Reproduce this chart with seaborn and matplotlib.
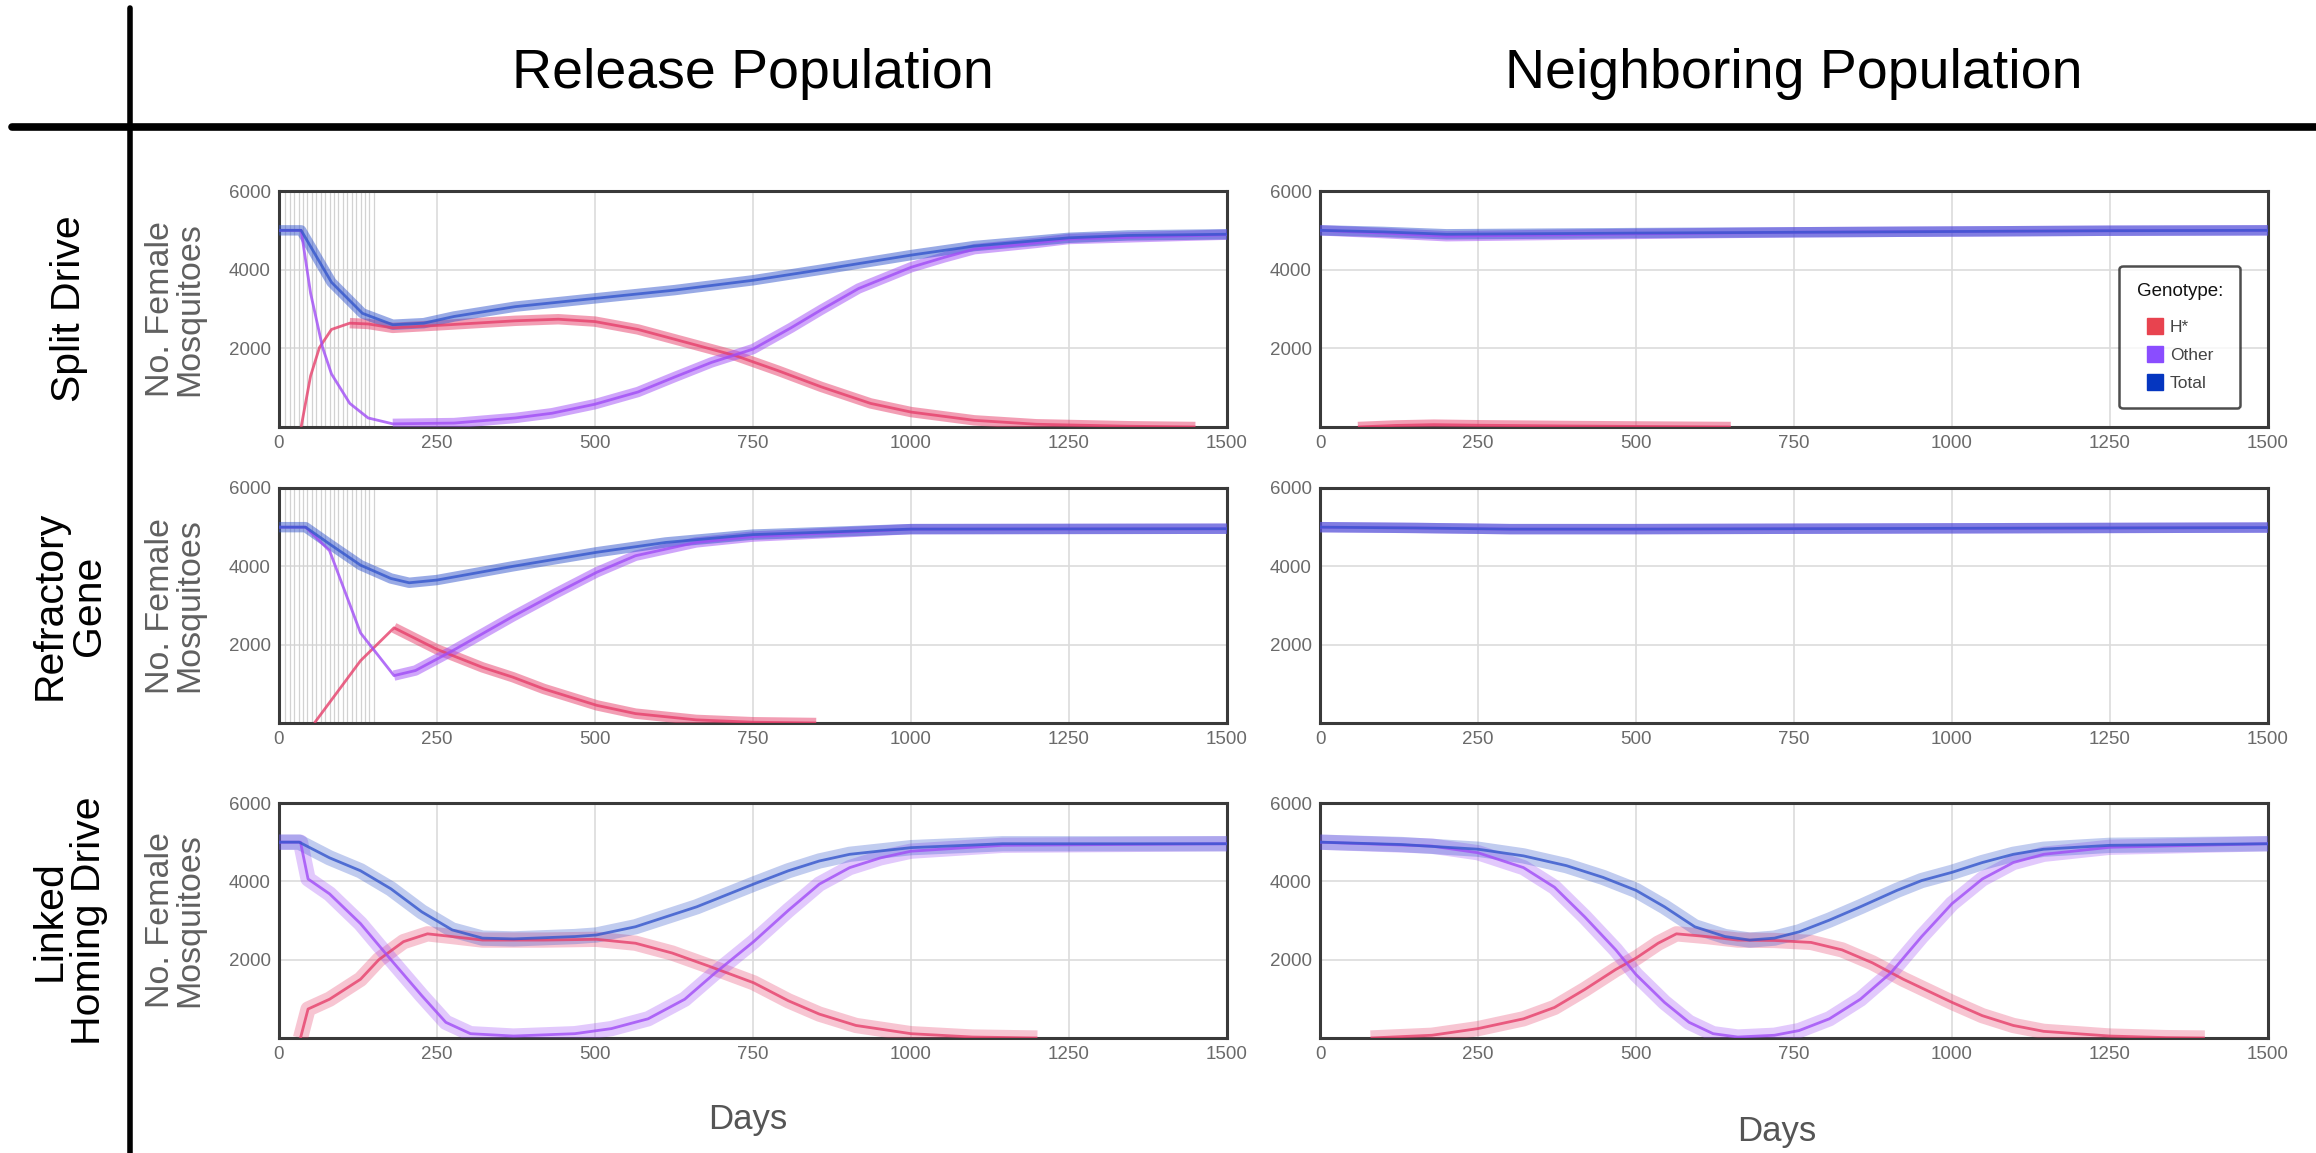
import numpy as np
import pandas as pd
import matplotlib
matplotlib.use("Agg")
import matplotlib.pyplot as plt
import seaborn as sns
from matplotlib.lines import Line2D

sns.set_theme(style="white")
plt.rcParams['font.family'] = ['Liberation Sans', 'DejaVu Sans']

# ---------------------------------------------------------------- data
GENOTYPES = ["H*", "Other", "Total"]
COLUMN_TITLES = ["Release Population", "Neighboring Population"]
ROW_TITLES = ["Split Drive", "Refractory\nGene", "Linked\nHoming Drive"]
X_TICKS = [0, 250, 500, 750, 1000, 1250, 1500]
Y_TICKS = [2000, 4000, 6000]
RELEASE_DAYS = [10, 17, 24, 31, 38, 45, 52, 59, 66, 73, 80, 87, 94, 101,
                108, 115, 122, 129, 136, 143, 150]

# Split drive, release population
SPLIT_REL_TOTAL_DAYS = [0, 35, 83, 132, 180, 229, 277, 374, 500, 626, 750, 858, 1000, 1100, 1250, 1343, 1500]
SPLIT_REL_TOTAL = [5000, 5000, 3680, 2890, 2600, 2640, 2810, 3060, 3270, 3480, 3730, 4000, 4370, 4600, 4810, 4870, 4900]
SPLIT_REL_HSTAR_DAYS = [35, 50, 64, 83, 112, 141, 180, 248, 374, 442, 500, 568, 626, 723, 790, 858, 936, 1000, 1100, 1198, 1343, 1450]
SPLIT_REL_HSTAR = [0, 1300, 2020, 2480, 2640, 2620, 2520, 2580, 2700, 2740, 2680, 2480, 2230, 1810, 1430, 1020, 600, 380, 170, 70, 20, 0]
SPLIT_REL_OTHER_DAYS = [0, 35, 50, 69, 83, 112, 141, 180, 277, 374, 432, 500, 568, 626, 684, 750, 810, 858, 917, 1000, 1052, 1100, 1198, 1250, 1500]
SPLIT_REL_OTHER = [5000, 5000, 3400, 2020, 1350, 600, 230, 80, 100, 230, 350, 580, 890, 1270, 1640, 1980, 2520, 2980, 3520, 4060, 4310, 4520, 4680, 4780, 4890]

# Split drive, neighbouring population
SPLIT_NB_TOTAL_DAYS = [0, 100, 200, 300, 500, 750, 1000, 1250, 1500]
SPLIT_NB_TOTAL = [5000, 4960, 4900, 4910, 4930, 4950, 4970, 4990, 5000]
SPLIT_NB_HSTAR_DAYS = [60, 120, 180, 250, 400, 550, 650]
SPLIT_NB_HSTAR = [0, 40, 60, 45, 25, 10, 0]
SPLIT_NB_OTHER_DAYS = [0, 100, 200, 300, 500, 750, 1000, 1250, 1500]
SPLIT_NB_OTHER = [5000, 4930, 4850, 4870, 4910, 4950, 4970, 4990, 5000]

# Refractory gene, release population
REFR_REL_TOTAL_DAYS = [0, 42, 80, 129, 177, 206, 250, 370, 503, 612, 750, 1000, 1500]
REFR_REL_TOTAL = [5000, 5000, 4570, 4030, 3690, 3580, 3650, 4000, 4360, 4610, 4810, 4950, 4960]
REFR_REL_HSTAR_DAYS = [56, 129, 182, 250, 322, 370, 419, 503, 564, 660, 750, 850]
REFR_REL_HSTAR = [0, 1590, 2430, 1880, 1420, 1170, 870, 450, 240, 80, 20, 0]
REFR_REL_OTHER_DAYS = [0, 42, 80, 129, 182, 216, 274, 370, 438, 503, 564, 660, 750, 1000, 1500]
REFR_REL_OTHER = [5000, 5000, 4400, 2300, 1210, 1340, 1840, 2720, 3310, 3850, 4270, 4610, 4760, 4950, 4960]

# Refractory gene, neighbouring population
REFR_NB_TOTAL_DAYS = [0, 150, 300, 500, 750, 1000, 1250, 1500]
REFR_NB_TOTAL = [5000, 4980, 4950, 4950, 4960, 4970, 4980, 4990]
REFR_NB_OTHER_DAYS = [0, 150, 300, 500, 750, 1000, 1250, 1500]
REFR_NB_OTHER = [5000, 4980, 4950, 4950, 4960, 4970, 4980, 4990]

# Linked homing drive, release population
LINK_REL_TOTAL_DAYS = [0, 32, 80, 129, 177, 226, 274, 322, 371, 468, 502, 564, 661, 751, 806, 855, 903, 1000, 1145, 1500]
LINK_REL_TOTAL = [5000, 5000, 4600, 4270, 3810, 3220, 2760, 2550, 2530, 2590, 2630, 2840, 3350, 3930, 4270, 4520, 4690, 4860, 4960, 4960]
LINK_REL_HSTAR_DAYS = [34, 46, 80, 129, 158, 197, 235, 274, 322, 419, 502, 564, 622, 681, 751, 806, 855, 913, 1000, 1097, 1200]
LINK_REL_HSTAR = [0, 740, 990, 1500, 2000, 2460, 2660, 2590, 2500, 2500, 2520, 2420, 2170, 1830, 1410, 950, 610, 320, 110, 25, 0]
LINK_REL_OTHER_DAYS = [0, 34, 46, 80, 129, 177, 226, 264, 303, 371, 468, 526, 584, 642, 690, 751, 806, 855, 903, 952, 1000, 1145, 1500]
LINK_REL_OTHER = [5000, 5000, 4060, 3680, 2920, 2000, 1080, 400, 110, 50, 110, 240, 490, 990, 1660, 2460, 3260, 3930, 4350, 4600, 4770, 4920, 4960]

# Linked homing drive, neighbouring population
LINK_NB_TOTAL_DAYS = [0, 129, 250, 322, 390, 448, 500, 545, 593, 641, 680, 719, 758, 806, 855, 913, 952, 1000, 1048, 1097, 1145, 1250, 1500]
LINK_NB_TOTAL = [5000, 4940, 4820, 4650, 4400, 4100, 3770, 3350, 2840, 2590, 2500, 2550, 2710, 3010, 3350, 3770, 4020, 4230, 4480, 4690, 4820, 4920, 4960]
LINK_NB_HSTAR_DAYS = [80, 177, 250, 322, 371, 419, 468, 500, 535, 564, 612, 661, 719, 777, 826, 874, 923, 1000, 1048, 1097, 1145, 1250, 1339, 1400]
LINK_NB_HSTAR = [0, 70, 240, 490, 780, 1240, 1750, 2040, 2420, 2660, 2590, 2500, 2490, 2440, 2250, 1920, 1500, 910, 570, 320, 170, 50, 10, 0]
LINK_NB_OTHER_DAYS = [0, 177, 250, 322, 371, 419, 468, 500, 545, 584, 622, 661, 719, 758, 806, 855, 903, 952, 1000, 1048, 1097, 1145, 1250, 1500]
LINK_NB_OTHER = [5000, 4900, 4730, 4350, 3850, 3090, 2250, 1620, 910, 400, 110, 25, 70, 190, 490, 990, 1660, 2590, 3430, 4060, 4480, 4690, 4870, 4960]

PANELS = [
    # (row, col, [(genotype, days, values), ...], release lines, spread)
    (0, 0, [("H*", SPLIT_REL_HSTAR_DAYS, SPLIT_REL_HSTAR),
            ("Other", SPLIT_REL_OTHER_DAYS, SPLIT_REL_OTHER),
            ("Total", SPLIT_REL_TOTAL_DAYS, SPLIT_REL_TOTAL)], True, False),
    (0, 1, [("H*", SPLIT_NB_HSTAR_DAYS, SPLIT_NB_HSTAR),
            ("Other", SPLIT_NB_OTHER_DAYS, SPLIT_NB_OTHER),
            ("Total", SPLIT_NB_TOTAL_DAYS, SPLIT_NB_TOTAL)], False, False),
    (1, 0, [("H*", REFR_REL_HSTAR_DAYS, REFR_REL_HSTAR),
            ("Other", REFR_REL_OTHER_DAYS, REFR_REL_OTHER),
            ("Total", REFR_REL_TOTAL_DAYS, REFR_REL_TOTAL)], True, False),
    (1, 1, [("Other", REFR_NB_OTHER_DAYS, REFR_NB_OTHER),
            ("Total", REFR_NB_TOTAL_DAYS, REFR_NB_TOTAL)], False, False),
    (2, 0, [("H*", LINK_REL_HSTAR_DAYS, LINK_REL_HSTAR),
            ("Other", LINK_REL_OTHER_DAYS, LINK_REL_OTHER),
            ("Total", LINK_REL_TOTAL_DAYS, LINK_REL_TOTAL)], False, True),
    (2, 1, [("H*", LINK_NB_HSTAR_DAYS, LINK_NB_HSTAR),
            ("Other", LINK_NB_OTHER_DAYS, LINK_NB_OTHER),
            ("Total", LINK_NB_TOTAL_DAYS, LINK_NB_TOTAL)], False, True),
]

# ---------------------------------------------------------------- style
LINE_COLORS = {"H*": "#e63f6b", "Other": "#a04cf6", "Total": "#3456cc"}
LEGEND_COLORS = {"H*": "#e8434f", "Other": "#8a4dff", "Total": "#0536c0"}
# day from which a series is drawn as a wide replicate band (thin before it)
BAND_FROM = {(0, 0, "H*"): 90, (0, 0, "Other"): 150,
             (1, 0, "H*"): 150, (1, 0, "Other"): 140}

W, H = 2316, 1153
fig = plt.figure(figsize=(W / 100, H / 100), dpi=100)


def frac_rect(x0, y0, x1, y1):
    return [x0 / W, 1 - y1 / H, (x1 - x0) / W, (y1 - y0) / H]


COL_X = [(279, 1227), (1320, 2268)]
ROW_Y = [(191, 427), (488, 723), (803, 1038)]

axes = {}
for row, col, series, releases, spread in PANELS:
    x0, x1 = COL_X[col]
    y0, y1 = ROW_Y[row]
    ax = fig.add_axes(frac_rect(x0, y0, x1, y1))
    axes[(row, col)] = ax

    if releases:
        for d in RELEASE_DAYS:
            ax.axvline(d, color="#d2d2d2", lw=0.9, zorder=1)

    band_lw = 11 if spread else 7.5
    band_alpha = 0.3 if spread else 0.5
    for name, days, vals in series:
        df = pd.DataFrame({"day": days, "count": vals})
        c = LINE_COLORS[name]
        start = BAND_FROM.get((row, col, name), -1)
        band_df = df[df["day"] >= start]
        sns.lineplot(data=band_df, x="day", y="count", ax=ax, color=c,
                     lw=band_lw, alpha=band_alpha, zorder=3,
                     solid_capstyle="butt", solid_joinstyle="round")
        sns.lineplot(data=df, x="day", y="count", ax=ax, color=c,
                     lw=2.0, alpha=0.8, zorder=4,
                     solid_capstyle="butt", solid_joinstyle="round")

    ax.set_xlim(0, 1500)
    ax.set_ylim(0, 6000)
    ax.set_xticks(X_TICKS)
    ax.set_yticks(Y_TICKS)
    ax.set_xticklabels([str(t) for t in X_TICKS])
    ax.set_yticklabels([str(t) for t in Y_TICKS])
    ax.set_xlabel("")
    ax.set_ylabel("")
    ax.grid(True, color="#dcdcdc", lw=1.2, zorder=0)
    ax.set_axisbelow(True)
    ax.tick_params(axis="both", length=0, labelsize=13.5, colors="#6a6a6a", pad=6)
    for sp in ax.spines.values():
        sp.set_color("#3a3a3a")
        sp.set_linewidth(2.2)
        sp.set_visible(True)

    if col == 0:
        ax.text(-0.11, 0.5, "No. Female\nMosquitoes", transform=ax.transAxes,
                rotation=90, ha="center", va="center", fontsize=24.5,
                color="#606060", linespacing=0.92)

# legend in the upper right panel
handles = [Line2D([], [], marker="s", ls="", markersize=11,
                  markerfacecolor=LEGEND_COLORS[g], markeredgecolor=LEGEND_COLORS[g],
                  label=g) for g in GENOTYPES]
leg = axes[(0, 1)].legend(handles=handles, title="Genotype:", loc="upper right",
                          bbox_to_anchor=(0.98, 0.72), frameon=True, fancybox=True,
                          fontsize=12.5, title_fontsize=13.5, handletextpad=0.35,
                          labelspacing=0.75, borderpad=1.0, handlelength=1.0,
                          labelcolor="#444444")
leg.get_frame().set_edgecolor("#222222")
leg.get_frame().set_linewidth(1.8)
leg.get_title().set_color("#111111")
leg._legend_box.sep = 14

# column titles
for (x0, x1), title in zip(COL_X, COLUMN_TITLES):
    fig.text((x0 + x1) / 2 / W, 1 - 74 / H, title, ha="center", va="center",
             fontsize=40, color="black")

# row titles
for (y0, y1), title in zip(ROW_Y, ROW_TITLES):
    fig.text(69 / W, 1 - ((y0 + y1) / 2) / H, title, ha="center", va="center",
             rotation=90, fontsize=29.5, color="black", linespacing=1.05)

# x axis titles
fig.text(748 / W, 1 - 1120 / H, "Days", ha="center", va="center",
         fontsize=25, color="#555555")
fig.text(1777 / W, 1 - 1131 / H, "Days", ha="center", va="center",
         fontsize=25, color="#555555")

# table rules
fig.add_artist(Line2D([130 / W, 130 / W], [1 - 8 / H, 0], color="black", lw=4.0))
fig.add_artist(Line2D([12 / W, 1], [1 - 127 / H, 1 - 127 / H], color="black", lw=5.5))

fig.savefig("out.png", dpi=100, facecolor="white")
